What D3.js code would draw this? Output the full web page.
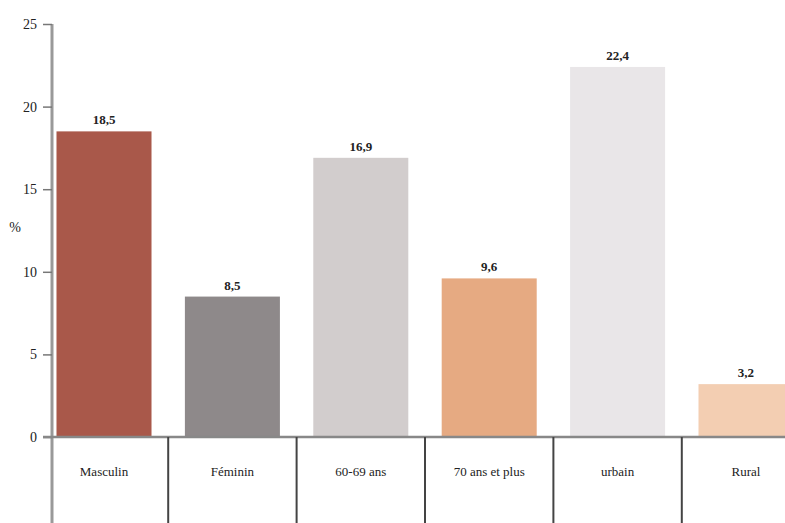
<!DOCTYPE html>
<html>
<head>
<meta charset="utf-8">
<script src="https://cdn.jsdelivr.net/npm/d3@7"></script>
<style>
  html, body { margin: 0; padding: 0; background: #fff; }
  text { font-family: "Liberation Serif", "DejaVu Serif", "Times New Roman", Times, serif !important; }
</style>
</head>
<body>
<svg id="chart" width="785" height="523"></svg>
<script>
const categories = ["Masculin", "Féminin", "60-69 ans", "70 ans et plus", "urbain", "Rural"];
const values = [18.5, 8.5, 16.9, 9.6, 22.4, 3.2];
const valueLabels = ["18,5", "8,5", "16,9", "9,6", "22,4", "3,2"];
const barColors = ["#a9584a", "#8e898a", "#d2cdcd", "#e6aa82", "#e9e6e8", "#f3ceb2"];
const yTicks = [0, 5, 10, 15, 20, 25];
const yTitle = "%";

const svg = d3.select("#chart");
const axisX = 52, baseY = 437, topY = 24;

const y = d3.scaleLinear().domain([0, 25]).range([baseY, topY]);
const x = d3.scaleBand().domain(categories)
  .range([axisX, 798]).paddingInner(0.26).paddingOuter(0.035);
const halfGap = x.step() * x.paddingInner() / 2;

// Bars
svg.append("g").selectAll("rect").data(values).join("rect")
  .attr("x", (d, i) => x(categories[i]))
  .attr("y", d => y(d))
  .attr("width", x.bandwidth())
  .attr("height", d => y(0) - y(d))
  .attr("fill", (d, i) => barColors[i]);

// Value labels
svg.append("g").selectAll("text").data(values).join("text")
  .attr("x", (d, i) => x(categories[i]) + x.bandwidth() / 2)
  .attr("y", d => y(d) - 7)
  .attr("text-anchor", "middle")
  .attr("font-size", 13)
  .attr("font-weight", "bold")
  .attr("fill", "#222")
  .text((d, i) => valueLabels[i]);

// Y axis
const yAxis = svg.append("g").attr("transform", `translate(${axisX},0)`)
  .call(d3.axisLeft(y).tickValues(yTicks).tickFormat(d3.format("d")).tickSize(9).tickPadding(6));
yAxis.select(".domain").attr("stroke", "#999").attr("stroke-width", 3)
  .attr("d", `M0,${topY}V523`);
yAxis.selectAll(".tick line").attr("stroke", "#777").attr("stroke-width", 1.5);
yAxis.selectAll(".tick text").attr("font-size", 14).attr("fill", "#222");

svg.append("text").attr("x", 15).attr("y", 232).attr("text-anchor", "middle")
  .attr("font-size", 14).attr("fill", "#222").text(yTitle);

// Baseline
svg.append("line").attr("x1", axisX - 9).attr("x2", 785)
  .attr("y1", y(0)).attr("y2", y(0))
  .attr("stroke", "#888").attr("stroke-width", 2.5);

// Category dividers
svg.append("g").selectAll("line").data(categories.slice(1)).join("line")
  .attr("x1", d => x(d) - halfGap).attr("x2", d => x(d) - halfGap)
  .attr("y1", y(0)).attr("y2", 523)
  .attr("stroke", "#444").attr("stroke-width", 2);

// Category labels
svg.append("g").selectAll("text").data(categories).join("text")
  .attr("x", d => x(d) + x.bandwidth() / 2)
  .attr("y", 476)
  .attr("text-anchor", "middle")
  .attr("font-size", 13)
  .attr("fill", "#222")
  .text(d => d);
</script>
</body>
</html>
